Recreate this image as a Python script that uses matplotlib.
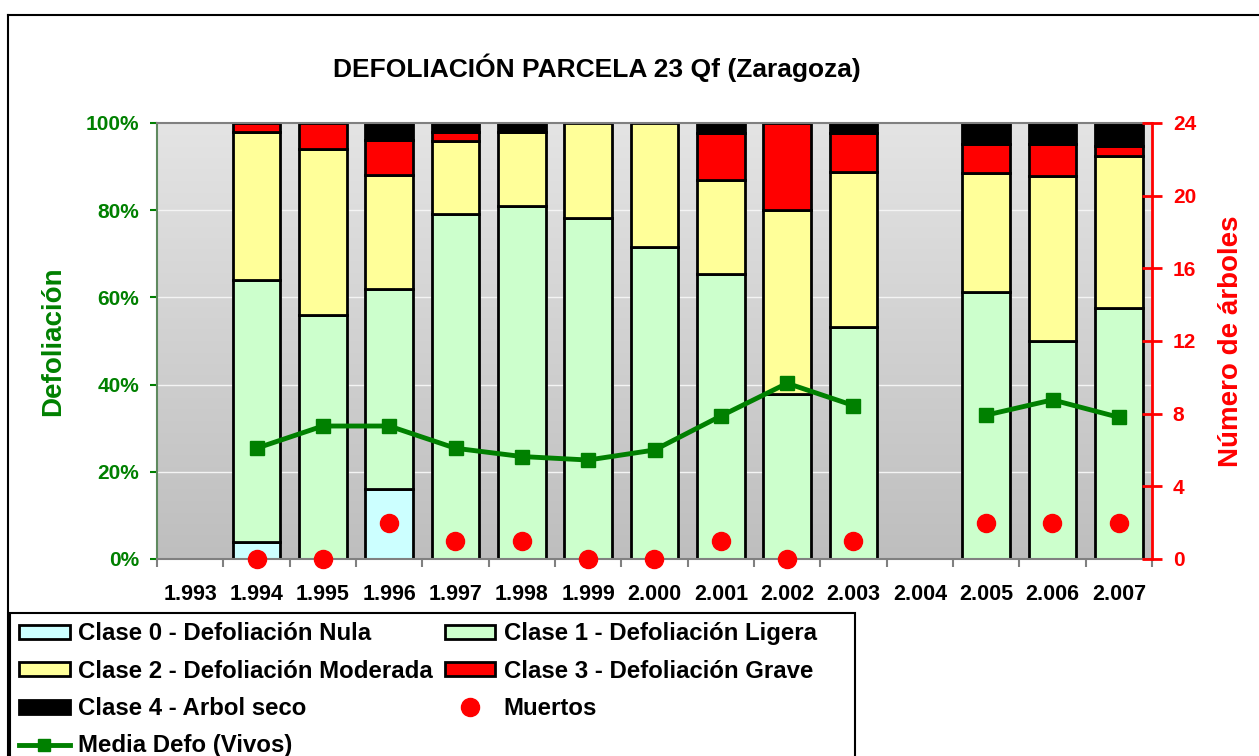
import matplotlib
matplotlib.use('Agg')
import matplotlib.pyplot as plt
import numpy as np
from matplotlib.lines import Line2D
from matplotlib.patches import Patch, Rectangle
from matplotlib.colors import LinearSegmentedColormap

plt.rcParams['font.family'] = ['Liberation Sans', 'DejaVu Sans']
plt.rcParams['font.weight'] = 'bold'

years = ['1.993', '1.994', '1.995', '1.996', '1.997', '1.998', '1.999', '2.000',
         '2.001', '2.002', '2.003', '2.004', '2.005', '2.006', '2.007']
clase0 = [0, 4, 0, 16, 0, 0, 0, 0, 0, 0, 0, 0, 0, 0, 0]
clase1 = [0, 60, 56, 46, 79.2, 80.9, 78.1, 71.6, 65.3, 37.8, 53.3, 0, 61.3, 50.0, 57.5]
clase2 = [0, 34, 38, 26, 16.6, 17.0, 21.9, 28.4, 21.6, 42.2, 35.5, 0, 27.3, 37.9, 34.9]
clase3 = [0, 2, 6, 8, 2.1, 0, 0, 0, 10.7, 20.0, 8.8, 0, 6.6, 7.3, 2.4]
clase4 = [0, 0, 0, 4, 2.1, 2.1, 0, 0, 2.4, 0, 2.4, 0, 4.8, 4.8, 5.2]
media_defo = [np.nan, 25.4, 30.5, 30.5, 25.4, 23.5, 22.7, 25.0, 32.8, 40.3, 35.2, np.nan, 33.0, 36.5, 32.5]
muertos = [np.nan, 0, 0, 2, 1, 1, 0, 0, 1, 0, 1, np.nan, 2, 2, 2]

names = ['Clase 0 - Defoliación Nula', 'Clase 1 - Defoliación Ligera',
         'Clase 2 - Defoliación Moderada', 'Clase 3 - Defoliación Grave',
         'Clase 4 - Arbol seco']
colors = ['#ccffff', '#ccffcc', '#ffff99', '#ff0000', '#000000']

W, H = 1259, 756
fig = plt.figure(figsize=(W / 100, H / 100), dpi=100)
ax = fig.add_axes([157 / W, 1 - 559 / H, (1152 - 157) / W, (559 - 123) / H])

x = np.arange(len(years))

# gradient background, light on top
grad = np.linspace(0, 1, 256).reshape(-1, 1)
cm = LinearSegmentedColormap.from_list('bg', ['#e4e4e4', '#bebebe'])
ax.imshow(grad, cmap=cm, aspect='auto', extent=[0, 1, 0, 1],
          transform=ax.transAxes, zorder=0)

for yv in [20, 40, 60, 80]:
    ax.axhline(yv, color='#f4f4f4', lw=1, zorder=0.5)

bottom = np.zeros(len(years))
for vals, c in zip([clase0, clase1, clase2, clase3, clase4], colors):
    vals = np.array(vals, dtype=float)
    keep = vals > 0
    ax.bar(x[keep], vals[keep], 0.72, bottom=bottom[keep], color=c,
           edgecolor='black', lw=2, zorder=2)
    bottom += vals

ax.plot(x, media_defo, color='#008000', lw=3.5, marker='s', ms=10, zorder=5)

ax.set_xlim(-0.5, len(years) - 0.5)
ax.set_ylim(0, 100)
ax.set_yticks([0, 20, 40, 60, 80, 100])
ax.set_yticklabels(['0%', '20%', '40%', '60%', '80%', '100%'])
ax.set_xticks(x)
ax.set_xticklabels(years)
ax.set_xticks(np.arange(-0.5, len(years), 1), minor=True)
ax.tick_params(axis='x', which='major', length=0, pad=18, labelsize=15.5)
ax.tick_params(axis='x', which='minor', length=6, width=1.5, color='#808080')
ax.tick_params(axis='y', colors='#008000', length=5, width=1.5, pad=8, labelsize=15)
ax.set_ylabel('Defoliación', color='#008000', fontsize=20, fontweight='bold', labelpad=14)
ax.spines['left'].set_color('#5f8a5f')
for s in ['top', 'bottom']:
    ax.spines[s].set_color('#808080')
for s in ax.spines.values():
    s.set_linewidth(1.5)
ax.spines['right'].set_visible(False)

ax2 = ax.twinx()
ax2.set_ylim(0, 24)
ax2.set_yticks([0, 4, 8, 12, 16, 20, 24])
ax2.plot(x, muertos, 'o', color='#ff0000', ms=13, clip_on=False, zorder=6)
ax2.tick_params(axis='y', colors='#ff0000', direction='inout', length=14, width=2,
                pad=8, labelsize=15)
ax2.spines['right'].set_color('#ff0000')
ax2.spines['right'].set_linewidth(2)
for s in ['top', 'bottom', 'left']:
    ax2.spines[s].set_visible(False)
ax2.set_ylabel('Número de árboles', color='#ff0000', fontsize=20, fontweight='bold', labelpad=16)

fig.text(597 / W, 1 - 68 / H, 'DEFOLIACIÓN PARCELA 23 Qf (Zaragoza)',
         ha='center', va='center', fontsize=19, fontweight='bold')

# figure border
fig.add_artist(Line2D([8 / W, 8 / W], [0, 1 - 15 / H], color='black', lw=1.5))
fig.add_artist(Line2D([8 / W, 1], [1 - 15 / H, 1 - 15 / H], color='black', lw=1.5))

# legend box
fig.add_artist(Rectangle((10 / W, -0.05), (855 - 10) / W, 0.05 + 1 - 613 / H,
                         transform=fig.transFigure, facecolor='white',
                         edgecolor='black', lw=1.5, zorder=3))

patches = [Patch(facecolor=c, edgecolor='black', lw=2, label=n) for c, n in zip(colors, names)]
h_media = Line2D([], [], color='#008000', lw=3.5, marker='s', ms=9, label='Media Defo (Vivos)')
h_muertos = Line2D([], [], color='#ff0000', ls='none', marker='o', ms=13, label='Muertos')
handles = [patches[0], patches[2], patches[4], h_media, patches[1], patches[3], h_muertos]
leg = fig.legend(handles=handles, loc='upper left', bbox_to_anchor=(12 / W, 1 - 615 / H),
                 ncol=2, fontsize=17.3, frameon=False,
                 handlelength=2.1, handleheight=0.52, handletextpad=0.35,
                 labelspacing=0.6, columnspacing=0.5, borderpad=0.3, borderaxespad=0)
leg.set_zorder(4)
for t in leg.get_texts():
    t.set_fontweight('bold')

fig.savefig('out.png', dpi=100)
